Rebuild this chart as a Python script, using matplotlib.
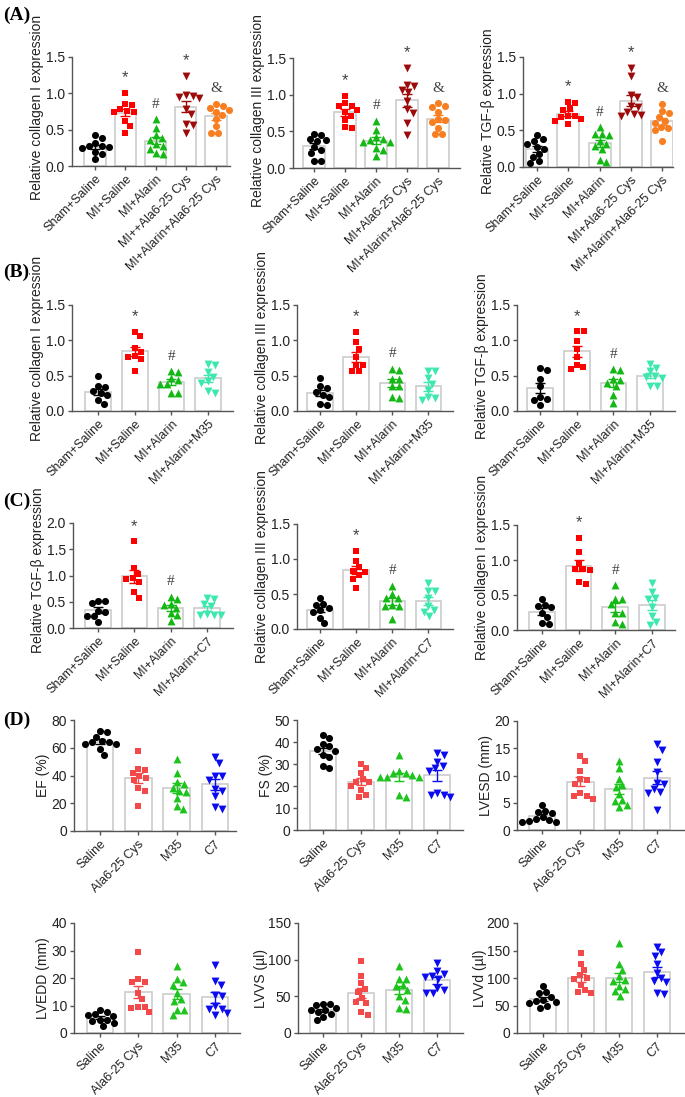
import numpy as np
import matplotlib
matplotlib.use('Agg')
import matplotlib.pyplot as plt
from matplotlib.transforms import ScaledTranslation

plt.rcParams['font.family'] = ['Liberation Sans', 'DejaVu Sans']

# ---- group names ----
groups_a1 = ['Sham+Saline', 'MI+Saline', 'MI+Alarin', 'MI++Ala6-25 Cys', 'MI+Alarin+Ala6-25 Cys']
groups_a = ['Sham+Saline', 'MI+Saline', 'MI+Alarin', 'MI+Ala6-25 Cys', 'MI+Alarin+Ala6-25 Cys']
groups_b = ['Sham+Saline', 'MI+Saline', 'MI+Alarin', 'MI+Alarin+M35']
groups_c = ['Sham+Saline', 'MI+Saline', 'MI+Alarin', 'MI+Alarin+C7']
groups_d = ['Saline', 'Ala6-25 Cys', 'M35', 'C7']

marks_a = ['', '*', '#', '*', '&']
marks_bc = ['', '*', '#', '']

# ---- (A) ----
a_col1 = [[0.42, 0.38, 0.31, 0.27, 0.26, 0.25, 0.28, 0.19, 0.16, 0.09],
          [1.0, 0.85, 0.84, 0.78, 0.76, 0.75, 0.74, 0.62, 0.55, 0.45],
          [0.64, 0.52, 0.42, 0.38, 0.36, 0.30, 0.28, 0.24, 0.18, 0.16],
          [1.24, 0.98, 0.97, 0.95, 0.93, 0.79, 0.72, 0.58, 0.56, 0.46],
          [0.85, 0.83, 0.80, 0.77, 0.75, 0.70, 0.65, 0.55, 0.46, 0.46]]
a_col3 = [[0.46, 0.45, 0.39, 0.38, 0.37, 0.28, 0.25, 0.20, 0.10, 0.09],
          [0.98, 0.88, 0.85, 0.84, 0.79, 0.76, 0.71, 0.66, 0.56, 0.54],
          [0.64, 0.52, 0.42, 0.40, 0.38, 0.36, 0.35, 0.27, 0.25, 0.16],
          [1.37, 1.13, 1.12, 1.07, 1.03, 0.91, 0.80, 0.75, 0.62, 0.45],
          [0.88, 0.84, 0.83, 0.77, 0.67, 0.65, 0.63, 0.55, 0.47, 0.46]]
a_tgf = [[0.43, 0.38, 0.35, 0.32, 0.27, 0.25, 0.18, 0.13, 0.08, 0.05],
         [0.89, 0.87, 0.80, 0.78, 0.70, 0.70, 0.68, 0.65, 0.63, 0.59],
         [0.54, 0.45, 0.45, 0.44, 0.35, 0.32, 0.28, 0.25, 0.10, 0.07],
         [1.35, 1.24, 0.98, 0.95, 0.83, 0.82, 0.75, 0.72, 0.71, 0.70],
         [0.86, 0.76, 0.74, 0.68, 0.63, 0.60, 0.55, 0.53, 0.50, 0.36]]

# ---- (B) ----
b_col1 = [[0.49, 0.35, 0.34, 0.28, 0.26, 0.22, 0.16, 0.10],
          [1.12, 1.06, 0.89, 0.84, 0.78, 0.76, 0.74, 0.57],
          [0.56, 0.55, 0.46, 0.44, 0.38, 0.38, 0.26, 0.25],
          [0.66, 0.65, 0.55, 0.48, 0.42, 0.40, 0.28, 0.25]]
b_col3 = [[0.46, 0.35, 0.33, 0.27, 0.23, 0.20, 0.10, 0.09],
          [1.12, 0.97, 0.88, 0.76, 0.65, 0.65, 0.57, 0.56],
          [0.60, 0.58, 0.45, 0.45, 0.35, 0.35, 0.20, 0.18],
          [0.56, 0.56, 0.46, 0.38, 0.30, 0.20, 0.18, 0.15]]
b_tgf = [[0.61, 0.58, 0.45, 0.35, 0.20, 0.17, 0.16, 0.09],
         [1.13, 1.13, 0.99, 0.88, 0.76, 0.65, 0.62, 0.59],
         [0.59, 0.58, 0.45, 0.44, 0.40, 0.36, 0.22, 0.12],
         [0.67, 0.61, 0.56, 0.50, 0.48, 0.47, 0.36, 0.35]]

# ---- (C) ----
c_tgf = [[0.52, 0.52, 0.47, 0.33, 0.30, 0.23, 0.22, 0.12],
         [1.65, 1.14, 1.03, 0.95, 0.94, 0.88, 0.68, 0.58],
         [0.60, 0.55, 0.46, 0.43, 0.38, 0.28, 0.24, 0.14],
         [0.57, 0.55, 0.45, 0.42, 0.26, 0.25, 0.24, 0.24]]
c_col3 = [[0.45, 0.36, 0.35, 0.30, 0.27, 0.25, 0.16, 0.08],
          [1.12, 0.97, 0.88, 0.83, 0.82, 0.77, 0.72, 0.58],
          [0.62, 0.50, 0.45, 0.45, 0.35, 0.33, 0.33, 0.15],
          [0.66, 0.55, 0.54, 0.45, 0.33, 0.27, 0.25, 0.18]]
c_col1 = [[0.45, 0.36, 0.35, 0.33, 0.25, 0.18, 0.10, 0.08],
          [1.32, 1.12, 0.95, 0.87, 0.87, 0.86, 0.68, 0.66],
          [0.64, 0.45, 0.45, 0.37, 0.25, 0.25, 0.12, 0.08],
          [0.67, 0.55, 0.46, 0.45, 0.33, 0.20, 0.12, 0.07]]

# ---- (D) ----
d_ef = [[72, 71, 68, 65, 64, 64, 63, 63, 59, 55],
        [58, 45, 44, 42, 40, 38, 37, 31, 29, 18],
        [52, 42, 35, 34, 31, 29, 28, 24, 18, 16],
        [53, 49, 40, 40, 37, 30, 29, 25, 17, 16]]
d_fs = [[43, 42, 39, 38, 37, 36, 34, 33, 29, 28],
        [30, 28, 26, 23, 22, 22, 20, 18, 16, 15],
        [34, 27, 26, 26, 25, 24, 24, 24, 16, 15],
        [35, 34, 31, 29, 28, 27, 17, 16, 15, 16]]
d_lvesd = [[4.6, 3.5, 3.3, 3.2, 2.3, 2.0, 1.8, 1.6, 1.5, 1.4],
           [13.5, 12.6, 10.8, 9.3, 9.2, 8.4, 6.7, 6.3, 6.2, 5.6],
           [12.6, 11.3, 9.4, 8.3, 7.9, 6.6, 5.5, 5.3, 4.5, 4.2],
           [15.7, 14.7, 12.4, 10.7, 8.7, 8.5, 7.6, 7.0, 6.8, 3.7]]
d_lvedd = [[8.3, 7.5, 6.8, 6.5, 6.3, 4.8, 4.6, 4.5, 3.6, 2.5],
           [29.5, 19.5, 18.5, 18.5, 14.5, 12.5, 9.5, 9.5, 9.2, 7.5],
           [24.5, 19.5, 18.5, 17.5, 14.5, 12.5, 11.5, 8.5, 8.5, 6.5],
           [24.8, 18.8, 17.6, 13.7, 13.3, 9.7, 8.8, 8.8, 7.3, 6.7]]
d_lvvs = [[40, 39, 38, 34, 32, 31, 29, 26, 22, 18],
          [98, 78, 68, 60, 56, 48, 42, 41, 28, 24],
          [92, 73, 73, 65, 64, 58, 50, 45, 34, 33],
          [95, 84, 80, 78, 76, 73, 62, 58, 55, 55]]
d_lvvd = [[86, 75, 72, 66, 60, 58, 57, 55, 50, 45],
          [145, 126, 115, 105, 100, 98, 88, 78, 75, 72],
          [163, 126, 115, 103, 96, 95, 86, 80, 76, 68],
          [157, 147, 140, 125, 110, 100, 95, 92, 73, 71]]

# ---- styles ----
col_a = ['#000000', '#ff0000', '#14b814', '#9c0a0a', '#f77f22']
mk_a = ['o', 's', '^', 'v', 'o']
col_bc = ['#000000', '#ff0000', '#14b814', '#3de8b0']
mk_bc = ['o', 's', '^', 'v']
col_d = ['#000000', '#f24a4a', '#1cc41c', '#0b0bf0']
mk_d = ['o', 's', '^', 'v']
msize = {'o': 26, 's': 24, '^': 32, 'v': 32}

W, H = 685, 1097
fig = plt.figure(figsize=(W / 100, H / 100), dpi=100)


def add_ax(l, t, r, b):
    return fig.add_axes([l / W, 1 - b / H, (r - l) / W, (b - t) / H])


def swarm(vals, ppy, diam):
    # simple beeswarm in pixel space, returns x offsets in px
    order = np.argsort(vals)[::-1]
    steps = np.arange(0.5, 40, 0.5)
    cands = [0.0]
    for s in steps:
        cands += [s, -s]
    placed = []
    offs = np.zeros(len(vals))
    for i in order:
        y = vals[i] * ppy
        for c in cands:
            if all((c - px) ** 2 + (y - py) ** 2 >= diam ** 2 for px, py in placed):
                break
        offs[i] = c
        placed.append((c, y))
    return offs


def panel(rect, xlim, data, groups, ylabel, yticks, fmt, colors, markers, marks=None,
          lab_x=0, lab_dy=0):
    l, t, r, b = rect
    ax = add_ax(*rect)
    ax.set_xlim(*xlim)
    ax.set_ylim(yticks[0], yticks[-1])
    ppx = (r - l) / (xlim[1] - xlim[0])
    ppy = (b - t) / (yticks[-1] - yticks[0])
    ymax = yticks[-1]
    for i, vals in enumerate(data):
        vals = np.asarray(vals, float)
        m = vals.mean()
        sem = vals.std(ddof=1) / np.sqrt(len(vals))
        ax.bar(i, m, width=0.7, color='white', edgecolor='#cccccc', linewidth=1.2, zorder=1)
        offs = swarm(vals, ppy, 6.8) / ppx
        ax.scatter(i + offs, vals, s=msize[markers[i]], marker=markers[i], color=colors[i],
                   linewidths=0, zorder=3, clip_on=False)
        ax.errorbar(i, m, yerr=sem, color=colors[i], capsize=3.5, elinewidth=1, capthick=1, zorder=4)
        if marks and marks[i]:
            fam = 'Liberation Sans' if marks[i] == '*' else 'Liberation Serif'
            ax.text(i, vals.max() + 0.14 * ymax, marks[i], ha='center', va='center',
                    fontsize=12 if marks[i] == '*' else 11, color='#444444', family=fam)
    for s in ['top', 'right']:
        ax.spines[s].set_visible(False)
    for s in ['left', 'bottom']:
        ax.spines[s].set_color('#555555')
        ax.spines[s].set_linewidth(1)
    ax.tick_params(colors='#555555', labelcolor='#222222', length=3, width=1, pad=2)
    ax.tick_params(axis='x', pad=5)
    ax.set_yticks(yticks)
    ax.set_yticklabels([fmt % v for v in yticks], fontsize=10)
    ax.set_xticks(range(len(groups)))
    ax.set_xticklabels(groups, rotation=45, ha='right', va='center', rotation_mode='anchor', fontsize=9)
    shift = ScaledTranslation(4 / 100, 0, fig.dpi_scale_trans)
    for lb in ax.get_xticklabels():
        lb.set_transform(lb.get_transform() + shift)
    ax.set_ylabel(ylabel, fontsize=10, color='#222222')
    ax.yaxis.set_label_coords((lab_x - l) / (r - l), 0.5 + lab_dy / (b - t))
    return ax


t_a = [0, 0.5, 1.0, 1.5]
panel((72, 57, 230, 166), (-0.76, 4.46), a_col1, groups_a1, 'Relative collagen I expression', t_a, '%.1f', col_a, mk_a, marks_a, 44, 4)
panel((293, 58, 460, 168), (-0.68, 4.71), a_col3, groups_a, 'Relative collagen III expression', t_a, '%.1f', col_a, mk_a, marks_a, 265, 2)
panel((523, 57, 673, 167), (-0.45, 4.35), a_tgf, groups_a, 'Relative TGF-β expression', t_a, '%.1f', col_a, mk_a, marks_a, 495, 1)

panel((72, 305, 233, 411), (-0.71, 3.68), b_col1, groups_b, 'Relative collagen I expression', t_a, '%.1f', col_bc, mk_bc, marks_bc, 44, 10)
panel((297, 305, 453, 411), (-0.64, 3.69), b_col3, groups_b, 'Relative collagen III expression', t_a, '%.1f', col_bc, mk_bc, marks_bc, 269, 10)
panel((517, 305, 675, 411), (-0.63, 3.68), b_tgf, groups_b, 'Relative TGF-β expression', t_a, '%.1f', col_bc, mk_bc, marks_bc, 489, 2)

panel((73, 523, 233, 628), (-0.69, 3.72), c_tgf, groups_c, 'Relative TGF-β expression', [0, 0.5, 1.0, 1.5, 2.0], '%.1f', col_bc, mk_bc, marks_bc, 45, 5)
panel((297, 524, 453, 629), (-0.64, 3.69), c_col3, groups_c, 'Relative collagen III expression', t_a, '%.1f', col_bc, mk_bc, marks_bc, 269, 10)
panel((517, 525, 675, 630), (-0.68, 3.63), c_col1, groups_c, 'Relative collagen I expression', t_a, '%.1f', col_bc, mk_bc, marks_bc, 489, 10)

panel((74, 720, 236, 831), (-0.68, 3.55), d_ef, groups_d, 'EF (%)', [0, 20, 40, 60, 80], '%d', col_d, mk_d, None, 50, 0)
panel((297, 720, 463, 830), (-0.68, 3.68), d_fs, groups_d, 'FS (%)', [0, 10, 20, 30, 40, 50], '%d', col_d, mk_d, None, 273, 0)
panel((517, 721, 685, 830), (-0.65, 3.73), d_lvesd, groups_d, 'LVESD (mm)', [0, 5, 10, 15, 20], '%d', col_d, mk_d, None, 493, 0)

panel((74, 923, 240, 1033), (-0.68, 3.65), d_lvedd, groups_d, 'LVEDD (mm)', [0, 10, 20, 30, 40], '%d', col_d, mk_d, None, 50, 0)
panel((298, 923, 463, 1033), (-0.66, 3.68), d_lvvs, groups_d, 'LVVS (µl)', [0, 50, 100, 150], '%d', col_d, mk_d, None, 268, 0)
panel((517, 923, 685, 1033), (-0.68, 3.74), d_lvvd, groups_d, 'LVVd (µl)', [0, 50, 100, 150, 200], '%d', col_d, mk_d, None, 487, 0)

for lab, y in [('(A)', 15), ('(B)', 272), ('(C)', 501), ('(D)', 720)]:
    fig.text(3 / W, 1 - y / H, lab, fontsize=14, fontweight='bold', family='Liberation Serif',
             va='center', ha='left')

fig.savefig('out.png', dpi=100, facecolor='white')
